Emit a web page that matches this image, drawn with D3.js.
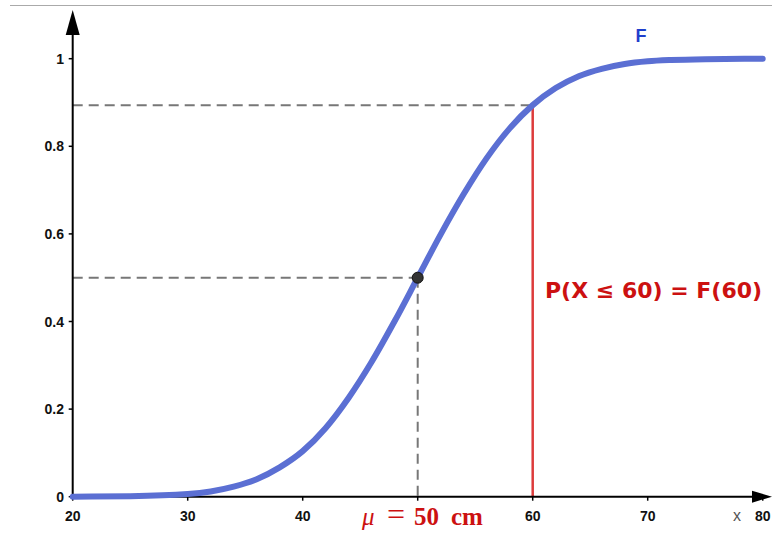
<!DOCTYPE html>
<html>
<head>
<meta charset="utf-8">
<script src="https://cdnjs.cloudflare.com/ajax/libs/d3/7.8.5/d3.min.js"></script>
<style>
  body { margin: 0; background: #fff; }
  svg { display: block; }
  .tick-label { font-family: "Liberation Sans", Arial, sans-serif; font-weight: bold; font-size: 14px; fill: #111; }
</style>
</head>
<body>
<div id="chart"></div>
<script>
// values
var xValues = [20, 25, 30, 32, 34, 36, 38, 40, 42, 44, 46, 48, 50, 52, 54, 56, 58, 60, 62, 64, 66, 68, 70, 72, 75, 80];
var fValues = [0, 0.001, 0.006, 0.012, 0.023, 0.04, 0.067, 0.104, 0.157, 0.226, 0.308, 0.401, 0.5, 0.599, 0.691, 0.773, 0.841, 0.894, 0.933, 0.96, 0.977, 0.988, 0.994, 0.997, 0.999, 1];
var xTicks = [20, 30, 40, 50, 60, 70, 80];
var xTickLabels = ["20", "30", "40", "", "60", "70", "80"];
var yTicks = [0, 0.2, 0.4, 0.6, 0.8, 1];
var yTickLabels = ["0", "0.2", "0.4", "0.6", "0.8", "1"];
var meanPoint = [50, 0.5];
var markX = 60;
var markF = 0.894;

var width = 772, height = 533;

var x = d3.scaleLinear().domain([20, 80]).range([72.7, 762.7]);
var y = d3.scaleLinear().domain([0, 1]).range([496.7, 58.7]);

var svg = d3.select("#chart").append("svg")
  .attr("width", width)
  .attr("height", height);

// top frame line
svg.append("line")
  .attr("x1", 10).attr("x2", width)
  .attr("y1", 5.5).attr("y2", 5.5)
  .attr("stroke", "#aaa").attr("stroke-width", 1.2);

// dashed guides
var dash = svg.append("g")
  .attr("stroke", "#777")
  .attr("stroke-width", 2)
  .attr("stroke-dasharray", "10,6");

dash.append("line")
  .attr("x1", x(20)).attr("x2", x(markX))
  .attr("y1", y(markF)).attr("y2", y(markF));
dash.append("line")
  .attr("x1", x(20)).attr("x2", x(meanPoint[0]))
  .attr("y1", y(meanPoint[1])).attr("y2", y(meanPoint[1]));
dash.append("line")
  .attr("x1", x(meanPoint[0])).attr("x2", x(meanPoint[0]))
  .attr("y1", y(meanPoint[1])).attr("y2", y(0));

// red line at x = 60
svg.append("line")
  .attr("x1", x(markX)).attr("x2", x(markX))
  .attr("y1", y(markF)).attr("y2", y(0))
  .attr("stroke", "#dd3b3b").attr("stroke-width", 2.5);

// axes
var axes = svg.append("g").attr("stroke", "#000").attr("stroke-width", 2);
axes.append("line")
  .attr("x1", x(20)).attr("x2", x(20))
  .attr("y1", 30).attr("y2", y(0) + 1);
axes.append("line")
  .attr("x1", x(20) - 1).attr("x2", 758)
  .attr("y1", y(0)).attr("y2", y(0));
svg.append("path")
  .attr("d", "M" + x(20) + ",10 L" + (x(20) - 7) + ",35 L" + (x(20) + 7) + ",35 Z")
  .attr("fill", "#000");
svg.append("path")
  .attr("d", "M772," + y(0) + " L752," + (y(0) - 6) + " L752," + (y(0) + 6) + " Z")
  .attr("fill", "#000");

// ticks
svg.selectAll(".xtick").data(xTicks).enter().append("line")
  .attr("x1", function(d) { return x(d); }).attr("x2", function(d) { return x(d); })
  .attr("y1", y(0)).attr("y2", y(0) + 4)
  .attr("stroke", "#000").attr("stroke-width", 1.5);
svg.selectAll(".ytick").data(yTicks).enter().append("line")
  .attr("x1", x(20) - 4).attr("x2", x(20))
  .attr("y1", function(d) { return y(d); }).attr("y2", function(d) { return y(d); })
  .attr("stroke", "#000").attr("stroke-width", 1.5);

svg.selectAll(".xlab").data(xTicks).enter().append("text")
  .attr("class", "tick-label")
  .attr("x", function(d) { return x(d); })
  .attr("y", 521)
  .attr("text-anchor", "middle")
  .text(function(d, i) { return xTickLabels[i]; });
svg.selectAll(".ylab").data(yTicks).enter().append("text")
  .attr("class", "tick-label")
  .attr("x", 64)
  .attr("y", function(d) { return y(d) + 5; })
  .attr("text-anchor", "end")
  .text(function(d, i) { return yTickLabels[i]; });

svg.append("text")
  .attr("x", 737).attr("y", 521)
  .attr("text-anchor", "middle")
  .attr("font-family", "Liberation Sans, Arial, sans-serif")
  .attr("font-size", 16)
  .attr("fill", "#555")
  .text("x");

// CDF curve
var line = d3.line()
  .x(function(d) { return x(d[0]); })
  .y(function(d) { return y(d[1]); })
  .curve(d3.curveMonotoneX);

svg.append("path")
  .datum(xValues.map(function(v, i) { return [v, fValues[i]]; }))
  .attr("d", line)
  .attr("fill", "none")
  .attr("stroke", "#5b6fd3")
  .attr("stroke-width", 6)
  .attr("stroke-linecap", "round");

svg.append("circle")
  .attr("cx", x(meanPoint[0])).attr("cy", y(meanPoint[1]))
  .attr("r", 5.5)
  .attr("fill", "#333").attr("stroke", "#111").attr("stroke-width", 1);

// labels
svg.append("text")
  .attr("x", 641).attr("y", 42)
  .attr("text-anchor", "middle")
  .attr("font-family", "Liberation Sans, Arial, sans-serif")
  .attr("font-weight", "bold")
  .attr("font-size", 18)
  .attr("fill", "#1f3fcc")
  .text("F");

svg.append("text")
  .attr("x", 545).attr("y", 298)
  .attr("font-family", "DejaVu Sans, sans-serif")
  .attr("font-weight", "bold")
  .attr("font-size", 22)
  .attr("fill", "#cc1111")
  .text("P(X \u2264 60) = F(60)");

var mu = svg.append("text")
  .attr("y", 525)
  .attr("font-family", "Liberation Serif, DejaVu Serif, serif")
  .attr("font-weight", "bold")
  .attr("font-size", 25)
  .attr("fill", "#cc1111");
mu.append("tspan").attr("x", 362).attr("font-style", "italic").attr("font-weight", "normal").text("\u03bc");
mu.append("tspan").attr("x", 387).attr("font-weight", "normal").attr("font-size", 32).text("=");
mu.append("tspan").attr("x", 414).text("50");
mu.append("tspan").attr("x", 451).text("cm");
</script>
</body>
</html>
